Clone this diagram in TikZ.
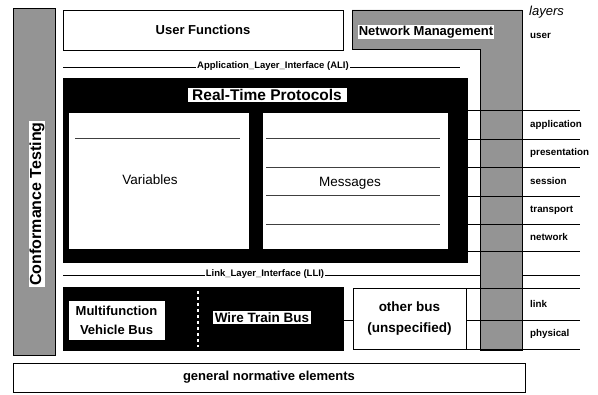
\documentclass[tikz,border=0pt]{standalone}
\usepackage{fontspec}
\setmainfont{Liberation Sans}
\usetikzlibrary{positioning}
\tikzset{
  osibox/.style={draw=black, line width=0.8pt, fill=white, anchor=north west, inner sep=0pt, outer sep=0pt, align=center, font=\bfseries\fontsize{13}{19}\selectfont},
  darkbox/.style={osibox, fill=black},
  greybox/.style={osibox, fill=black!42},
  labelbox/.style={fill=white, inner sep=1pt, font=\bfseries\fontsize{13}{15}\selectfont},
  ifline/.style={draw=black, line width=0.7pt},
  iflabel/.style={fill=white, inner sep=1pt, font=\bfseries\fontsize{9.5}{11}\selectfont},
  layerline/.style={draw=black, line width=0.9pt},
  layerlabel/.style={anchor=west, inner sep=0pt, font=\bfseries\fontsize{9.8}{11}\selectfont},
  rowline/.style={draw=black!75, line width=0.6pt},
}

\begin{document}
\begin{tikzpicture}[x=1pt, y=-1pt]
    \useasboundingbox (0,0) rectangle (598,395);
    % conformance testing column
    \node[greybox, minimum width=42pt, minimum height=347pt] (conf) at (13,8) {};
    \node[labelbox, rotate=90, font=\bfseries\fontsize{16}{18}\selectfont] (conflabel) at (37,204) {Conformance Testing};
    % top row
    \node[osibox, minimum width=280pt, minimum height=40pt] (user) at (63,10) {User Functions};
    \coordinate (aliL) at (63,67);
    \coordinate (aliR) at (460,67);
    \draw[ifline] (aliL) -- (aliR);
    \node[iflabel] (ali) at (273,66) {Application\_Layer\_Interface (ALI)};
    \coordinate (lliL) at (63,275);
    \coordinate (lliR) at (580,275);
    \draw[ifline] (lliL) -- (lliR);
    \node[iflabel] (lli) at (265,274) {Link\_Layer\_Interface (LLI)};
    % network management
    \filldraw[fill=black!42, draw=black, line width=0.8pt] (352,10) -- (522,10) -- (522,350) -- (480,350) -- (480,49) -- (352,49) -- cycle;
    \node[labelbox] (netmgmt) at (426,32) {Network Management};
    % real-time protocols
    \node[darkbox, minimum width=404pt, minimum height=184pt] (rtp) at (63,78) {};
    \node[osibox, minimum width=181pt, minimum height=137pt] (vars) at (68,112) {};
    \node[osibox, minimum width=186pt, minimum height=137pt] (msgs) at (262,112) {};
    \node[font=\fontsize{13.5}{16}\selectfont] (varstext) at (150,180) {Variables};
    \node[font=\fontsize{13.5}{16}\selectfont] (msgstext) at (350,183) {Messages};
    \node[labelbox, draw=black, minimum width=160pt, minimum height=15pt, inner sep=0pt, font=\bfseries\fontsize{15.5}{16}\selectfont] (rtptitle) at (267,94.5) {Real-Time Protocols};
    \draw[rowline] (75,138) -- (240,138);
    \foreach \y in {138,167,195,224}
        \draw[rowline] (266,\y) -- (440,\y);
    % bus layer
    \node[darkbox, minimum width=280pt, minimum height=63pt] (busarea) at (63,287) {};
    \node[osibox, minimum width=97pt, minimum height=40pt] (mvb) at (68,300) {Multifunction\\Vehicle Bus};
    \draw[white, dashed, line width=1.2pt] (198,291) -- (198,347);
    \node[labelbox, inner sep=1.5pt, font=\bfseries\fontsize{13.5}{15}\selectfont] (wtb) at (262,317.5) {Wire Train Bus};
    \node[osibox, minimum width=113pt, minimum height=61pt, font=\bfseries\fontsize{13.5}{21}\selectfont] (other) at (353,288) {other bus\\(unspecified)};
    \draw[layerline] (busarea.east |- 0,320) -- (other.west |- 0,320);
    % layers
    \foreach \y in {110,139,167,196,224,251,288,320,349}
        \draw[layerline] (467,\y) -- (580,\y);
    \node[anchor=west, inner sep=0pt, font=\itshape\fontsize{13}{15}\selectfont] (layers) at (529,12) {layers};
    \foreach \y/\t in {36/user,124.5/application,153/presentation,181.5/session,210/transport,237.5/network,304/link,334/physical}
        \node[layerlabel] (lay-\t) at (530,\y) {\t};
    % general
    \node[osibox, minimum width=512pt, minimum height=29pt] (general) at (13,363) {general normative elements};
\end{tikzpicture}
\end{document}
